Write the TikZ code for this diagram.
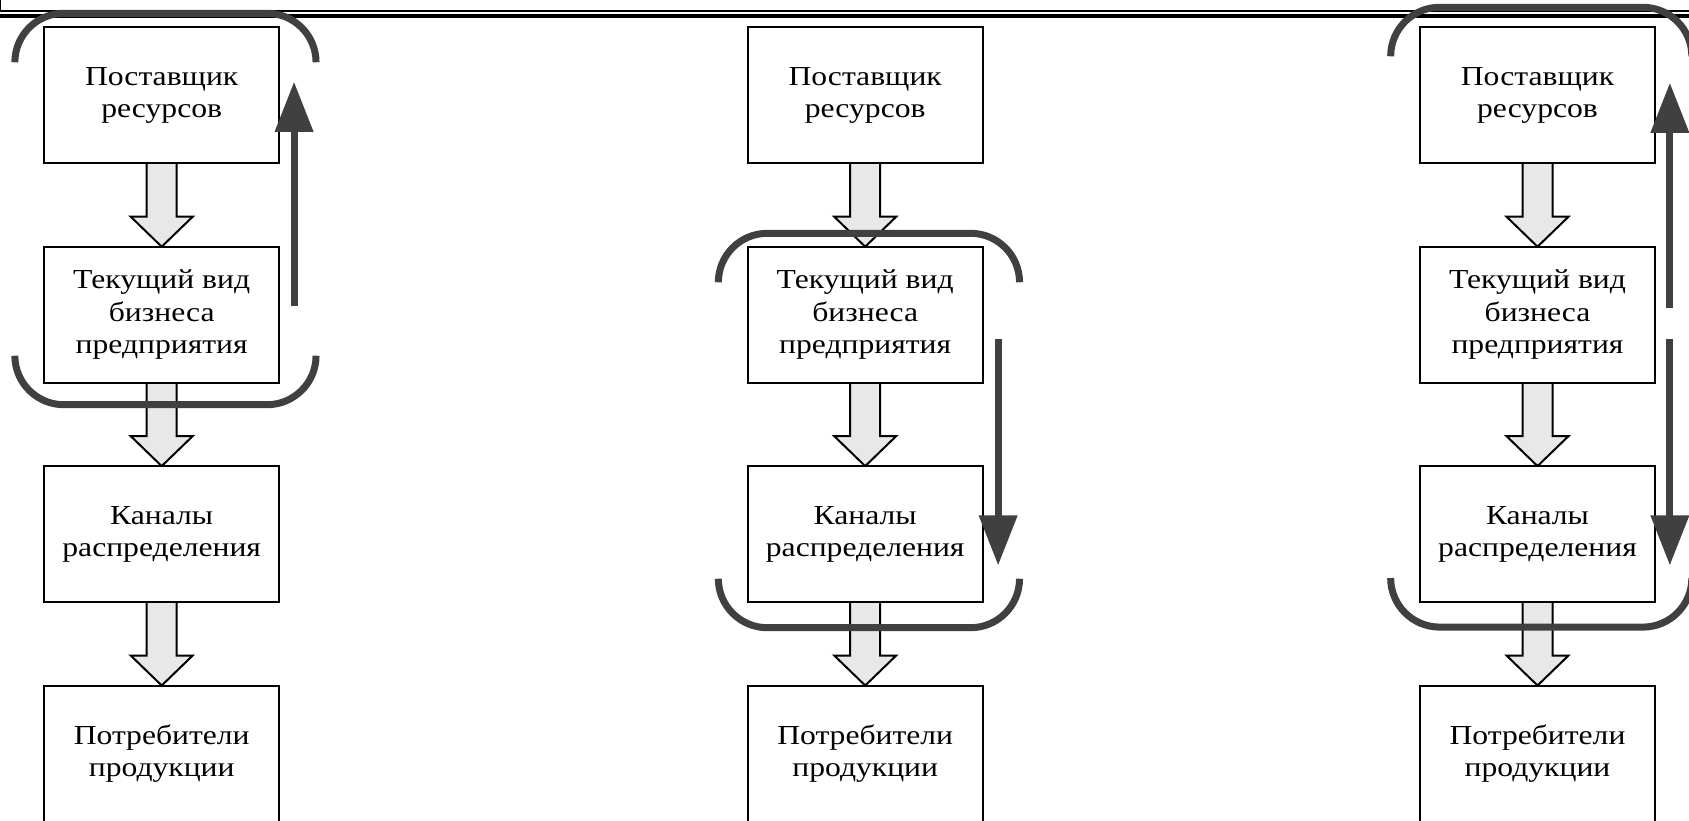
\documentclass[tikz,border=0pt]{standalone}
\usepackage{fontspec}
\setmainfont{Liberation Serif}[FakeStretch=1.15]
\usepackage{tikz}
\usetikzlibrary{arrows.meta,positioning,calc}
\definecolor{loopgray}{HTML}{404040}
\definecolor{pipefill}{HTML}{E8E8E8}
\pgfdeclarelayer{background}
\pgfsetlayers{background,main}

\newcommand{\pipe}[2]{%
  \begin{pgfonlayer}{background}
    \draw[pipe] ($(#1.south)+(-15,0)$) -- ($(#2.north)+(-15,-30)$) -- ++(-16,0) -- (#2.north)
      -- ($(#2.north)+(31,-30)$) -- ++(-16,0) -- ($(#1.south)+(15,0)$);
  \end{pgfonlayer}}
\newcommand{\loopframe}[4]{%
  \draw[bracket] ($(#1.north west)+(-29.5,49-#3)$) |- ($(#1.north)+(0,-#3)$) -| ($(#1.north east)+(37,49-#3)$);
  \draw[bracket] ($(#2.south west)+(-29.5,#4-49)$) |- ($(#2.south)+(0,#4)$) -| ($(#2.south east)+(37,#4-49)$);}

\begin{document}
\begin{tikzpicture}[x=1pt,y=-1pt,
    box/.style={draw, line width=2pt, fill=white, minimum width=234.7pt, minimum height=136pt,
      inner sep=0pt, outer sep=0pt, align=center, font=\fontsize{27.5}{32.3}\selectfont},
    pipe/.style={draw, line width=2pt, fill=pipefill, line join=miter},
    bracket/.style={draw=loopgray, line width=7pt, rounded corners=49pt},
    looparrow/.style={draw=loopgray, line width=7pt, -{Triangle[length=50pt,width=37pt]}}]
    \useasboundingbox (0,0) rectangle (1689,821);
    \clip (0,0) rectangle (1689,821);

    \draw[line width=1.2pt] (0.6,0) -- (0.6,11) -- (1689,11);
    \draw[line width=3.5pt] (0,16) -- (1689,16);

    \foreach \col/\x in {a/161.7, b/865.2, c/1537.5}{
        \node[box] (\col1) at (\x,95.3) {Поставщик\\ресурсов};
        \node[box, below=83.4pt of \col1] (\col2) {Текущий вид\\бизнеса\\предприятия};
        \node[box, below=83.4pt of \col2] (\col3) {Каналы\\распределения};
        \node[box, below=83.4pt of \col3] (\col4) {Потребители\\продукции};
        \pipe{\col1}{\col2}
        \pipe{\col2}{\col3}
        \pipe{\col3}{\col4}
    }

    \loopframe{a1}{a2}{14}{22}
    \loopframe{b2}{b3}{13.4}{25.6}
    \loopframe{c1}{c3}{20}{25}

    \coordinate (aup0) at ($(a2.north east)+(15,59.5)$);
    \coordinate (aup1) at ($(a1.north east)+(15,54.5)$);
    \coordinate (bdn0) at ($(b2.north east)+(15.6,92.6)$);
    \coordinate (bdn1) at ($(b3.north east)+(15.6,99.3)$);
    \coordinate (cup0) at ($(c2.north east)+(15,61)$);
    \coordinate (cup1) at ($(c1.north east)+(15,55.5)$);
    \coordinate (cdn0) at ($(c2.north east)+(15,92.5)$);
    \coordinate (cdn1) at ($(c3.north east)+(15,99.3)$);
    \draw[looparrow] (aup0) -- (aup1);
    \draw[looparrow] (bdn0) -- (bdn1);
    \draw[looparrow] (cup0) -- (cup1);
    \draw[looparrow] (cdn0) -- (cdn1);
\end{tikzpicture}
\end{document}
